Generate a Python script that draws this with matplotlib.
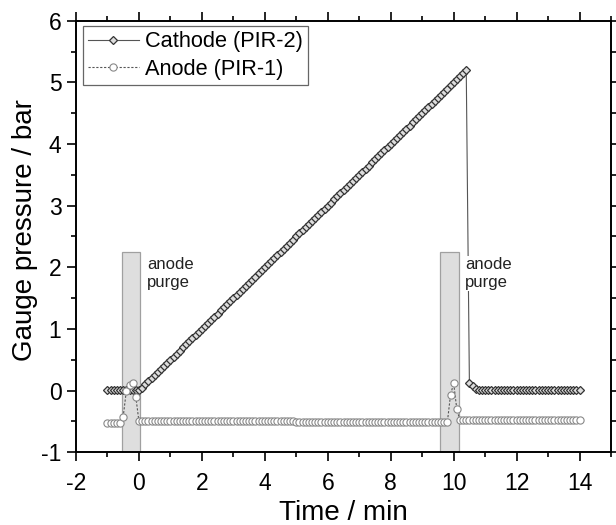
import numpy as np
import matplotlib
matplotlib.use('Agg')
import matplotlib.pyplot as plt
from matplotlib.patches import Rectangle

plt.rcParams['font.family'] = ['Liberation Sans', 'DejaVu Sans']
plt.rcParams['axes.unicode_minus'] = False

# sample clock, one reading every 6 s
time_min = np.round(np.arange(-1.0, 14.05, 0.1), 1)

# cathode (PIR-2), bar
cathode_ramp = [0.05, 0.10, 0.15, 0.20, 0.25, 0.30, 0.35, 0.40, 0.45, 0.50,
                0.55, 0.60, 0.65, 0.70, 0.75, 0.80, 0.85, 0.90, 0.95, 1.00,
                1.05, 1.10, 1.15, 1.20, 1.25, 1.30, 1.35, 1.40, 1.45, 1.50,
                1.55, 1.60, 1.65, 1.70, 1.75, 1.80, 1.85, 1.90, 1.95, 2.00,
                2.05, 2.10, 2.15, 2.20, 2.25, 2.30, 2.35, 2.40, 2.45, 2.50,
                2.55, 2.60, 2.65, 2.70, 2.75, 2.80, 2.85, 2.90, 2.95, 3.00,
                3.05, 3.10, 3.15, 3.20, 3.25, 3.30, 3.35, 3.40, 3.45, 3.50,
                3.55, 3.60, 3.65, 3.70, 3.75, 3.80, 3.85, 3.90, 3.95, 4.00,
                4.05, 4.10, 4.15, 4.20, 4.25, 4.30, 4.35, 4.40, 4.45, 4.50,
                4.55, 4.60, 4.65, 4.70, 4.75, 4.80, 4.85, 4.90, 4.95, 5.00,
                5.05, 5.10, 5.15, 5.20]
cathode = [0.01] * 11 + cathode_ramp + [0.13, 0.07, 0.03] + [0.01] * 33

# anode (PIR-1), bar
anode = ([-0.53] * 5 + [-0.42, 0.00, 0.09, 0.12, -0.10]
         + [-0.50] * 50 + [-0.51] * 49
         + [-0.07, 0.12, -0.30] + [-0.48] * 39)

purges = [(-0.55, 0.02), (9.57, 10.17)]
purge_top = 2.25
purge_text = [(0.25, 2.17), (10.36, 2.17)]

fig = plt.figure(figsize=(6.16, 5.25), dpi=100)
ax = fig.add_axes([0.1234, 0.1385, 0.8685, 0.8221])

for x0, x1 in purges:
    ax.add_patch(Rectangle((x0, -1), x1 - x0, purge_top + 1, facecolor='#dedede',
                           edgecolor='#a0a0a0', lw=0.9, zorder=1))

ax.plot(time_min, cathode, '-', color='#555555', lw=0.8, marker='D', ms=4.4,
        mfc='#dddddd', mec='#333333', mew=0.9, zorder=3, label='Cathode (PIR-2)')
ax.plot(time_min, anode, color='#555555', ls=(0, (2, 1.5)), lw=0.8, marker='o',
        ms=5.2, mfc='white', mec='#888888', mew=0.8, zorder=4, label='Anode (PIR-1)')

for x, y in purge_text:
    ax.text(x, y, 'anode\npurge', fontsize=12, va='top', ha='left', color='#222222',
            linespacing=1.3, zorder=5,
            bbox=dict(facecolor='white', edgecolor='none', pad=0.5))

ax.set_xlim(-2, 15)
ax.set_ylim(-1, 6)
ax.set_xticks(np.arange(-2, 15, 2))
ax.set_xticks(np.arange(-2, 16, 1), minor=True)
ax.set_yticks(np.arange(-1, 7, 1))
ax.set_yticks(np.arange(-1, 6.5, 0.5), minor=True)
ax.tick_params(which='both', direction='out', top=True, right=True, width=1.2, labelsize=16.5)
ax.tick_params(which='major', length=6.5)
ax.tick_params(which='minor', length=3.3)
ax.tick_params(axis='x', pad=8)
ax.tick_params(axis='y', pad=4)
for s in ax.spines.values():
    s.set_linewidth(1.4)

ax.set_xlabel('Time / min', fontsize=20, va='center')
ax.xaxis.set_label_coords(0.5, -0.14)
ax.set_ylabel('Gauge pressure / bar', fontsize=20, va='center')
ax.yaxis.set_label_coords(-0.095, 0.515)

leg = ax.legend(loc='upper left', bbox_to_anchor=(0.013, 0.988), borderaxespad=0,
                fontsize=15.7, fancybox=False, edgecolor='#666666', framealpha=1,
                handlelength=2.3, handletextpad=0.3, borderpad=0.25, labelspacing=0.3)
leg.get_frame().set_linewidth(0.9)

fig.savefig('out.png', dpi=100)
